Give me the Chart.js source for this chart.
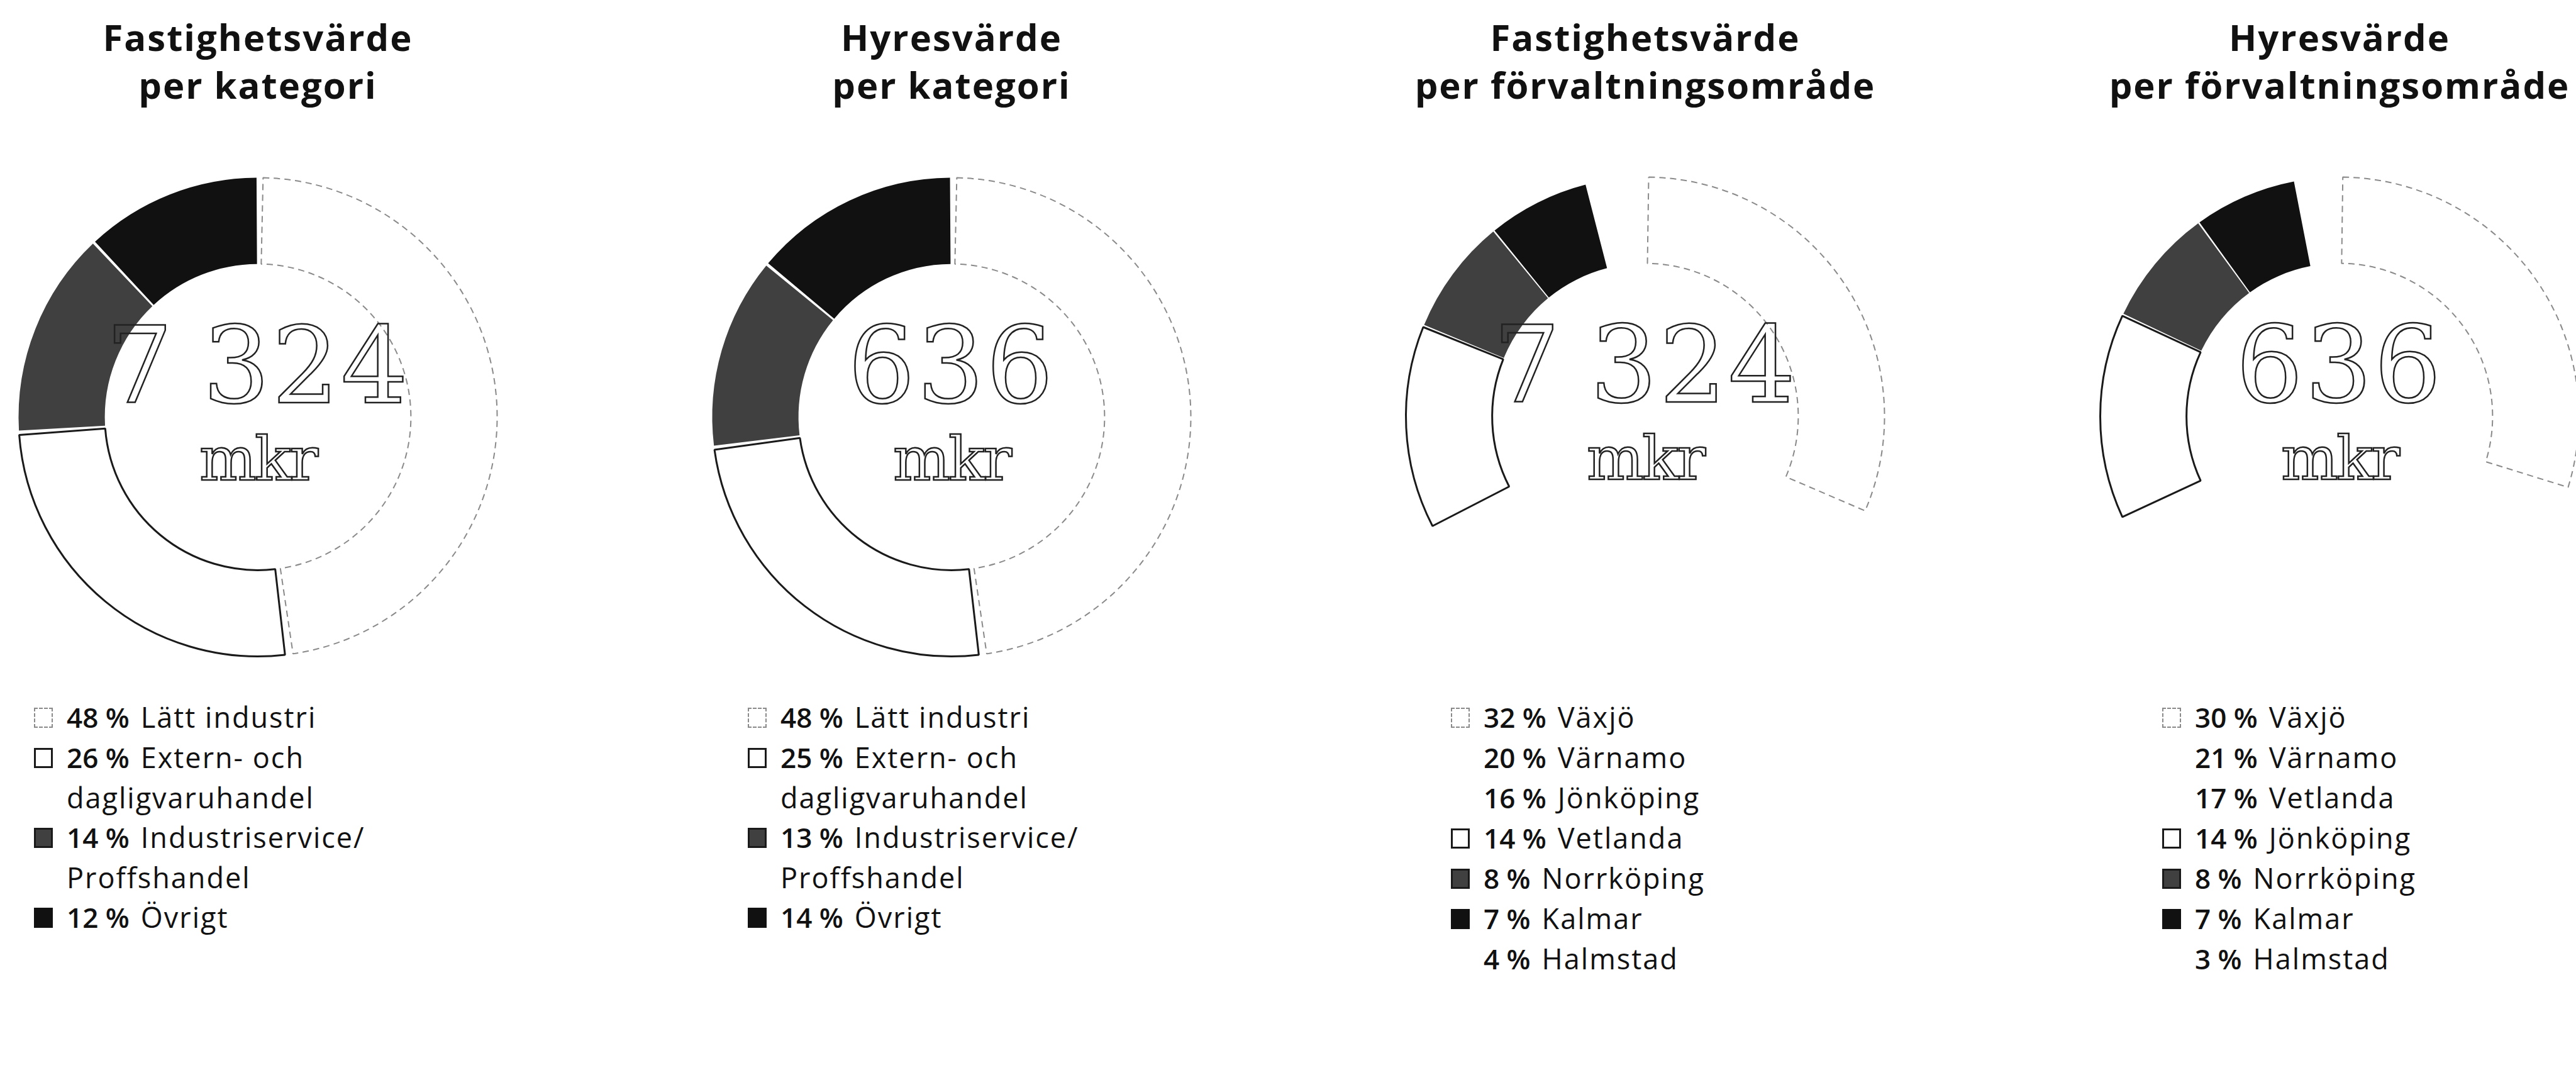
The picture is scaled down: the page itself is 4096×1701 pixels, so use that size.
<!DOCTYPE html>
<html>
<head>
<meta charset="utf-8">
<script src="https://cdn.jsdelivr.net/npm/chart.js@4.4.0/dist/chart.umd.min.js"></script>
<style>
  html, body { margin: 0; padding: 0; background: #fff; }
  #page { position: relative; width: 4096px; height: 1701px; overflow: hidden; font-family: 'Open Sans', sans-serif; color: #111; }
  .title { position: absolute; width: 900px; text-align: center; font-weight: 700; font-size: 58px; line-height: 76px; letter-spacing: 2px; white-space: nowrap; }
  .ring { position: absolute; }
  .big { position: absolute; width: 700px; text-align: center; font-family: 'DejaVu Serif', serif; color: transparent; -webkit-text-stroke: 2.5px #222; white-space: nowrap; line-height: 1; }
  .num { font-size: 168px; letter-spacing: 3px; word-spacing: -12px; }
  .unit { font-size: 96px; letter-spacing: -3px; }
  .legend { position: absolute; width: 570px; font-size: 45px; line-height: 63px; letter-spacing: 2px; }
  .item { position: relative; }
  .pct { font-weight: 600; font-size: 44px; letter-spacing: 0; margin-right: 18px; white-space: nowrap; }
  .sw { position: absolute; left: -52px; top: 17px; width: 30px; height: 32px; box-sizing: border-box; }
  .sw.faint { border: 2px dashed #8a8a8a; background: #fff; }
  .sw.outline { border: 3px solid #1a1a1a; background: #fff; }
  .sw.grey { border: 3px solid #1a1a1a; background: #404040; }
  .sw.black { background: #111; }
</style>
</head>
<body>
<div id="page"></div>
<script>
// Data
const katLabels = ['Lätt industri', 'Extern- och dagligvaruhandel', 'Industriservice/\u200BProffshandel', 'Övrigt'];
const fastKat = [48, 26, 14, 12];
const hyrKat = [48, 25, 13, 14];
const katKinds = ['faint', 'outline', 'grey', 'black'];

const fastOmrLabels = ['Växjö', 'Värnamo', 'Jönköping', 'Vetlanda', 'Norrköping', 'Kalmar', 'Halmstad'];
const fastOmr = [32, 20, 16, 14, 8, 7, 4];
const hyrOmrLabels = ['Växjö', 'Värnamo', 'Vetlanda', 'Jönköping', 'Norrköping', 'Kalmar', 'Halmstad'];
const hyrOmr = [30, 21, 17, 14, 8, 7, 3];
const omrKinds = ['faint', 'none', 'none', 'outline', 'grey', 'black', 'none'];

const titles = [
  ['Fastighetsvärde', 'per kategori'],
  ['Hyresvärde', 'per kategori'],
  ['Fastighetsvärde', 'per förvaltningsområde'],
  ['Hyresvärde', 'per förvaltningsområde']
];
const totals = ['7 324', '636', '7 324', '636'];
const unit = 'mkr';

// layout (px)
const centerX = [410, 1513, 2616, 3720];
const centerY = [663, 663, 662, 662];
const legendX = [106, 1241, 2359, 3490];
const legendTop = 1108;
const R = 376, R_IN = 263, BOX = 840;

const fills = { faint: '#ffffff', outline: '#ffffff', grey: '#404040', black: '#111111', none: 'rgba(0,0,0,0)' };
const strokes = { faint: '#8a8a8a', outline: '#1a1a1a', grey: '#404040', black: '#111111', none: 'rgba(0,0,0,0)' };
const widths = { faint: 2, outline: 3, grey: 0, black: 0, none: 0 };

const page = document.getElementById('page');

function addDiv(cls, left, top, html) {
  const d = document.createElement('div');
  d.className = cls;
  d.style.left = left + 'px';
  d.style.top = top + 'px';
  if (html !== undefined) d.innerHTML = html;
  page.appendChild(d);
  return d;
}

function ringChart(i, labels, values, kinds) {
  const c = document.createElement('canvas');
  c.className = 'ring';
  c.width = BOX;
  c.height = BOX;
  c.style.left = (centerX[i] - BOX / 2) + 'px';
  c.style.top = (centerY[i] - BOX / 2) + 'px';
  page.appendChild(c);

  new Chart(c, {
    type: 'doughnut',
    data: {
      labels: labels,
      datasets: [{
        data: values,
        backgroundColor: kinds.map(k => fills[k]),
        borderColor: kinds.map(k => strokes[k]),
        borderWidth: kinds.map(k => widths[k]),
        borderDash: ctx => kinds[ctx.dataIndex] === 'faint' ? [10, 7] : [],
        spacing: 9
      }]
    },
    options: {
      responsive: false,
      animation: false,
      events: [],
      radius: R,
      cutout: R_IN,
      plugins: {
        legend: { display: false },
        tooltip: { enabled: false }
      }
    }
  });

  // centre figure
  addDiv('big num', centerX[i] - 350, centerY[i] - 165).textContent = totals[i];
  addDiv('big unit', centerX[i] - 350, centerY[i] + 19).textContent = unit;

  // title
  addDiv('title', centerX[i] - 450, 21, titles[i][0] + '<br>' + titles[i][1]);

  // legend
  const lg = addDiv('legend', legendX[i], legendTop);
  labels.forEach((lab, j) => {
    const item = document.createElement('div');
    item.className = 'item';
    if (kinds[j] !== 'none') {
      const sw = document.createElement('div');
      sw.className = 'sw ' + kinds[j];
      item.appendChild(sw);
    }
    const p = document.createElement('span');
    p.className = 'pct';
    p.textContent = values[j] + ' %';
    item.appendChild(p);
    item.appendChild(document.createTextNode(lab));
    lg.appendChild(item);
  });
}

ringChart(0, katLabels, fastKat, katKinds);
ringChart(1, katLabels, hyrKat, katKinds);
ringChart(2, fastOmrLabels, fastOmr, omrKinds);
ringChart(3, hyrOmrLabels, hyrOmr, omrKinds);
</script>
</body>
</html>
